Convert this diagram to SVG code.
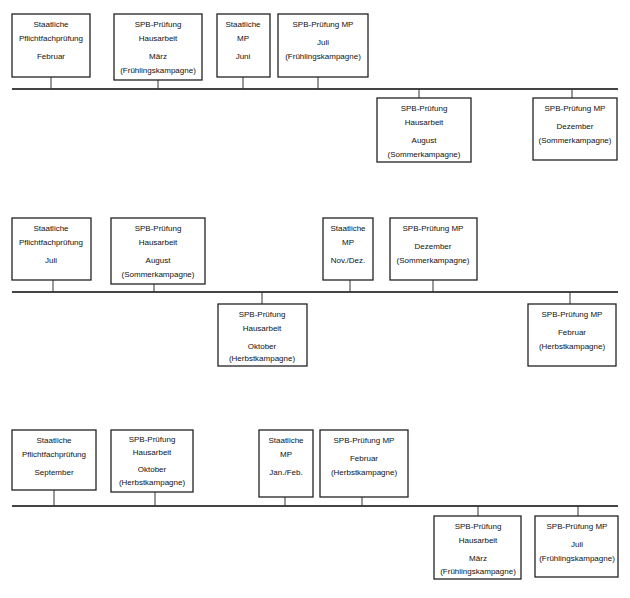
<svg xmlns="http://www.w3.org/2000/svg" width="630" height="598" viewBox="0 0 630 598">
<style>
rect{fill:#fff;stroke:#222;stroke-width:1.3}
text{font-family:"Liberation Sans Narrow","Liberation Sans",Arial,sans-serif;font-size:8px;text-anchor:middle;fill:#111}
.tl{stroke:#444;stroke-width:2}
.tk{stroke:#333;stroke-width:1}
</style>
<rect width="630" height="598" style="fill:#fff;stroke:none"/>
<g id="connectors">
<line class="tl" x1="12" y1="89" x2="618" y2="89"/>
<line class="tk" x1="51" y1="77" x2="51" y2="89"/>
<line class="tk" x1="158" y1="80" x2="158" y2="89"/>
<line class="tk" x1="243" y1="77" x2="243" y2="89"/>
<line class="tk" x1="318" y1="77" x2="318" y2="89"/>
<line class="tk" x1="419" y1="89" x2="419" y2="98"/>
<line class="tk" x1="572" y1="89" x2="572" y2="98"/>
<line class="tl" x1="12" y1="292" x2="618" y2="292"/>
<line class="tk" x1="53" y1="280" x2="53" y2="292"/>
<line class="tk" x1="154" y1="284" x2="154" y2="292"/>
<line class="tk" x1="350" y1="280" x2="350" y2="292"/>
<line class="tk" x1="433" y1="280" x2="433" y2="292"/>
<line class="tk" x1="262" y1="292" x2="262" y2="304"/>
<line class="tk" x1="570" y1="292" x2="570" y2="304"/>
<line class="tl" x1="12" y1="506" x2="618" y2="506"/>
<line class="tk" x1="54" y1="490" x2="54" y2="506"/>
<line class="tk" x1="155" y1="492" x2="155" y2="506"/>
<line class="tk" x1="285" y1="497" x2="285" y2="506"/>
<line class="tk" x1="362" y1="497" x2="362" y2="506"/>
<line class="tk" x1="478" y1="506" x2="478" y2="516"/>
<line class="tk" x1="578" y1="506" x2="578" y2="516"/>
</g>
<g id="r1n1"><rect x="12" y="14" width="78" height="63"/><text x="51" y="27">Staatliche</text><text x="51" y="41">Pflichtfachprüfung</text><text x="51" y="59">Februar</text></g>
<g id="r1n2"><rect x="114" y="14" width="88" height="66"/><text x="158" y="27">SPB-Prüfung</text><text x="158" y="41">Hausarbeit</text><text x="158" y="59">März</text><text x="158" y="73">(Frühlingskampagne)</text></g>
<g id="r1n3"><rect x="217" y="14" width="53" height="63"/><text x="243" y="27">Staatliche</text><text x="243" y="41">MP</text><text x="243" y="59">Juni</text></g>
<g id="r1n4"><rect x="278" y="14" width="90" height="63"/><text x="323" y="27">SPB-Prüfung MP</text><text x="323" y="45">Juli</text><text x="323" y="59">(Frühlingskampagne)</text></g>
<g id="r1n5"><rect x="377" y="98" width="94" height="64"/><text x="424" y="111">SPB-Prüfung</text><text x="424" y="125">Hausarbeit</text><text x="424" y="143">August</text><text x="424" y="157">(Sommerkampagne)</text></g>
<g id="r1n6"><rect x="533" y="98" width="84" height="62"/><text x="575" y="111">SPB-Prüfung MP</text><text x="575" y="129">Dezember</text><text x="575" y="143">(Sommerkampagne)</text></g>
<g id="r2n1"><rect x="12" y="218" width="79" height="62"/><text x="51" y="231">Staatliche</text><text x="51" y="245">Pflichtfachprüfung</text><text x="51" y="263">Juli</text></g>
<g id="r2n2"><rect x="111" y="218" width="94" height="66"/><text x="158" y="231">SPB-Prüfung</text><text x="158" y="245">Hausarbeit</text><text x="158" y="263">August</text><text x="158" y="277">(Sommerkampagne)</text></g>
<g id="r2n3"><rect x="323" y="218" width="50" height="62"/><text x="348" y="231">Staatliche</text><text x="348" y="245">MP</text><text x="348" y="263">Nov./Dez.</text></g>
<g id="r2n4"><rect x="390" y="218" width="87" height="62"/><text x="433" y="231">SPB-Prüfung MP</text><text x="433" y="249">Dezember</text><text x="433" y="263">(Sommerkampagne)</text></g>
<g id="r2n5"><rect x="218" y="304" width="89" height="62"/><text x="262" y="317">SPB-Prüfung</text><text x="262" y="331">Hausarbeit</text><text x="262" y="349">Oktober</text><text x="262" y="361">(Herbstkampagne)</text></g>
<g id="r2n6"><rect x="528" y="304" width="88" height="62"/><text x="572" y="317">SPB-Prüfung MP</text><text x="572" y="335">Februar</text><text x="572" y="349">(Herbstkampagne)</text></g>
<g id="r3n1"><rect x="12" y="430" width="84" height="60"/><text x="54" y="443">Staatliche</text><text x="54" y="457">Pflichtfachprüfung</text><text x="54" y="475">September</text></g>
<g id="r3n2"><rect x="111" y="430" width="82" height="62"/><text x="152" y="442">SPB-Prüfung</text><text x="152" y="455">Hausarbeit</text><text x="152" y="472">Oktober</text><text x="152" y="485">(Herbstkampagne)</text></g>
<g id="r3n3"><rect x="259" y="430" width="54" height="67"/><text x="286" y="443">Staatliche</text><text x="286" y="457">MP</text><text x="286" y="475">Jan./Feb.</text></g>
<g id="r3n4"><rect x="320" y="430" width="88" height="67"/><text x="364" y="443">SPB-Prüfung MP</text><text x="364" y="461">Februar</text><text x="364" y="475">(Herbstkampagne)</text></g>
<g id="r3n5"><rect x="434" y="516" width="87" height="63"/><text x="478" y="529">SPB-Prüfung</text><text x="478" y="543">Hausarbeit</text><text x="478" y="561">März</text><text x="478" y="574">(Frühlingskampagne)</text></g>
<g id="r3n6"><rect x="535" y="516" width="83" height="61"/><text x="577" y="529">SPB-Prüfung MP</text><text x="577" y="547">Juli</text><text x="577" y="561">(Frühlingskampagne)</text></g>
</svg>
